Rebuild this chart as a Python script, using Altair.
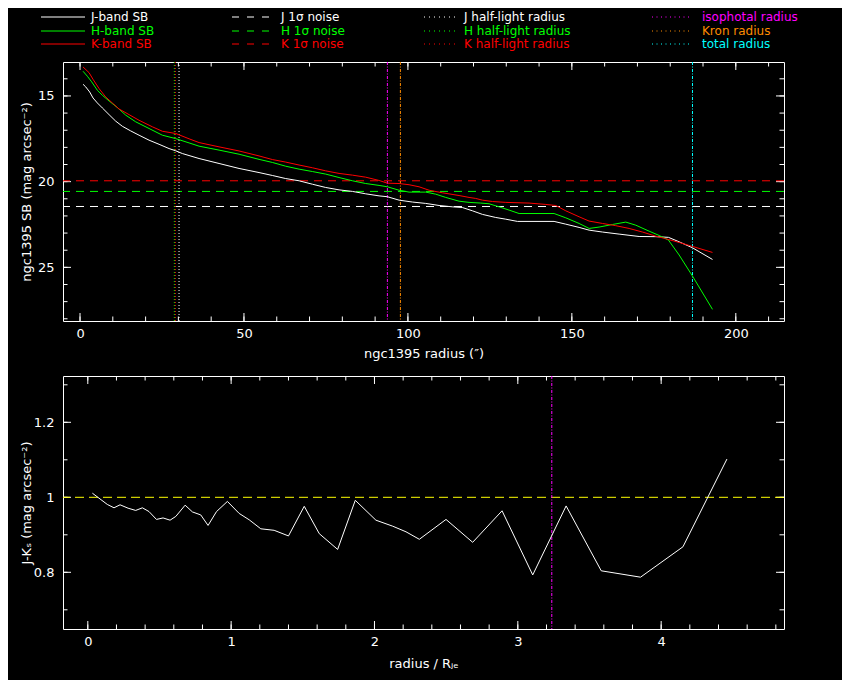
import altair as alt
import pandas as pd

# ---------------- data ----------------
j_radius = [0.92, 1.73, 2.95, 3.97, 5.29, 6.81, 8.85, 10.88, 12.91, 15.45,
            18.00, 21.05, 24.10, 27.15, 29.18, 31.21, 36.30, 42.40, 48.50, 54.60,
            58.66, 62.73, 66.80, 70.86, 74.93, 79.00, 83.07, 87.13, 91.20, 93.74,
            97.30, 101.37, 105.43, 109.50, 113.56, 116.61, 119.66, 122.72, 126.79, 129.84,
            133.40, 144.58, 148.14, 152.21, 155.26, 159.33, 164.41, 170.52, 175.60, 179.47,
            182.72, 186.79, 192.89]
j_sb = [14.32, 14.47, 14.77, 15.12, 15.41, 15.70, 16.09, 16.47, 16.77, 17.04,
        17.29, 17.58, 17.82, 18.07, 18.20, 18.36, 18.65, 18.94, 19.23, 19.47,
        19.64, 19.82, 19.95, 20.15, 20.34, 20.48, 20.57, 20.71, 20.83, 20.88,
        21.08, 21.19, 21.27, 21.39, 21.47, 21.51, 21.70, 21.91, 22.09, 22.19,
        22.32, 22.32, 22.48, 22.67, 22.83, 22.94, 23.06, 23.20, 23.21, 23.25,
        23.51, 23.86, 24.54]

h_radius = [0.92, 2.24, 3.56, 5.29, 6.81, 8.85, 11.39, 13.93, 16.98, 21.05,
            25.11, 29.18, 33.25, 36.30, 42.40, 48.50, 54.60, 58.66, 62.73, 66.80,
            70.86, 74.93, 79.00, 83.07, 87.13, 91.20, 93.74, 97.30, 100.35, 105.43,
            108.48, 111.53, 115.60, 118.65, 122.21, 124.75, 127.80, 130.86, 133.91, 144.58,
            148.14, 152.21, 155.26, 158.31, 162.38, 166.45, 169.50, 173.57, 176.62, 179.47,
            182.72, 186.79, 192.89]
h_sb = [13.56, 13.85, 14.18, 14.67, 14.96, 15.29, 15.68, 16.12, 16.51, 16.90,
        17.29, 17.49, 17.74, 17.93, 18.16, 18.40, 18.70, 18.88, 19.10, 19.27,
        19.41, 19.56, 19.76, 19.95, 20.11, 20.22, 20.30, 20.50, 20.61, 20.61,
        20.73, 20.92, 21.14, 21.21, 21.25, 21.29, 21.47, 21.66, 21.86, 21.86,
        22.11, 22.44, 22.73, 22.65, 22.50, 22.36, 22.54, 22.89, 23.14, 23.41,
        24.28, 25.51, 27.45]

k_radius = [0.92, 2.75, 3.97, 5.80, 7.83, 9.86, 11.90, 14.95, 18.00, 22.06,
            25.11, 29.18, 33.25, 36.30, 42.40, 48.50, 54.60, 58.66, 62.73, 66.80,
            70.86, 74.93, 79.00, 83.07, 87.13, 91.20, 93.74, 97.30, 100.35, 103.40,
            106.45, 110.52, 115.60, 118.65, 120.69, 122.72, 125.77, 129.84, 136.96, 142.04,
            145.09, 148.14, 152.21, 155.26, 159.33, 163.40, 167.47, 171.53, 175.60, 178.65,
            182.72, 186.79, 192.89]
k_sb = [13.31, 13.64, 14.03, 14.57, 15.06, 15.41, 15.76, 16.09, 16.42, 16.80,
        17.06, 17.19, 17.50, 17.72, 17.97, 18.21, 18.50, 18.71, 18.86, 19.03,
        19.19, 19.37, 19.52, 19.62, 19.74, 19.93, 20.09, 20.11, 20.18, 20.30,
        20.50, 20.65, 20.81, 20.92, 20.98, 21.08, 21.16, 21.21, 21.25, 21.33,
        21.39, 21.70, 22.05, 22.30, 22.44, 22.57, 22.73, 22.94, 23.18, 23.33,
        23.55, 23.78, 24.13]

noise_bands = ["J", "H", "K"]
noise_sb = [21.45, 20.57, 19.95]

halflight_bands = ["J", "H", "K"]
halflight_radius = [30.20, 28.77, 29.07]

aperture_names = ["isophotal radius", "Kron radius", "total radius"]
aperture_radius = [93.74, 97.71, 186.79]

jk_radius = [0.032, 0.136, 0.183, 0.225, 0.281, 0.334, 0.381, 0.427, 0.479, 0.525,
             0.574, 0.614, 0.679, 0.730, 0.788, 0.839, 0.898, 0.974, 1.056, 1.126,
             1.207, 1.300, 1.400, 1.510, 1.615, 1.743, 1.866, 2.010, 2.127, 2.220,
             2.313, 2.499, 2.685, 2.890, 3.104, 3.337, 3.582, 3.856, 4.152, 4.459]
jk_color = [1.011, 0.981, 0.972, 0.980, 0.971, 0.965, 0.972, 0.962, 0.941, 0.945,
            0.939, 0.949, 0.979, 0.961, 0.953, 0.925, 0.962, 0.989, 0.957, 0.940,
            0.916, 0.912, 0.897, 0.976, 0.903, 0.861, 0.992, 0.939, 0.923, 0.908,
            0.888, 0.941, 0.880, 0.964, 0.793, 0.977, 0.804, 0.787, 0.868, 1.102]
jk_reference = [1.0]
iso_radius_rje = [3.237]

top_x_labels = [0, 50, 100, 150, 200]
top_x_minor = list(range(0, 211, 10))
top_y_labels = [15, 20, 25]
top_y_minor = list(range(14, 29))
bot_x_labels = [0, 1, 2, 3, 4]
bot_x_minor = [round(0.2 * i, 1) for i in range(0, 25)]
bot_y_labels = [0.8, 1.0, 1.2]
bot_y_minor = [0.7, 0.8, 0.9, 1.0, 1.1, 1.2, 1.3]

legend_texts = [
    ["J-band SB", "H-band SB", "K-band SB"],
    ["J 1σ noise", "H 1σ noise", "K 1σ noise"],
    ["J half-light radius", "H half-light radius", "K half-light radius"],
    ["isophotal radius", "Kron radius", "total radius"],
]

# ---------------- styles ----------------
FONT = "DejaVu Sans"
W = 721
H_TOP = 259
H_BOT = 253
MAJOR = 8
MINOR = 4.5
BAND_COL = {"J": "#ffffff", "H": "#00ff00", "K": "#ff0000"}
APER_COL = {"isophotal radius": "#ff00ff", "Kron radius": "#ff8c00", "total radius": "#00ffff"}
NOISE_DASH = [8, 6]
HALF_DASH = [1, 2]
APER_DASH = [3, 1.5, 1, 1.5]

xs_top = alt.Scale(domain=[-5.19, 214.7], nice=False, zero=False)
ys_top = alt.Scale(domain=[13.02, 28.13], nice=False, zero=False, reverse=True)
xs_bot = alt.Scale(domain=[-0.173, 4.857], nice=False, zero=False)
ys_bot = alt.Scale(domain=[0.6488, 1.3235], nice=False, zero=False)


def label_axis_x(values, title, title_y):
    return alt.Axis(orient="bottom", values=values, ticks=False, labelPadding=6,
                    labelFlush=False, title=title, titleX=W / 2, titleY=title_y,
                    titleAlign="center", titleBaseline="middle")


def label_axis_y(values, title, h, fmt):
    return alt.Axis(orient="left", values=values, ticks=False, labelPadding=9,
                    format=fmt, title=title, titleX=-37, titleY=h / 2,
                    titleAlign="center", titleBaseline="middle", titleAngle=-90)


def line_layer(r, v, color, xs, ys, xaxis=None, yaxis=None):
    df = pd.DataFrame({"radius": r, "value": v})
    return alt.Chart(df).mark_line(color=color, strokeWidth=1).encode(
        x=alt.X("radius:Q", scale=xs, axis=xaxis),
        y=alt.Y("value:Q", scale=ys, axis=yaxis),
    )


def frame_ticks(xs, ys, xvals_major, xvals_minor, yvals_major, yvals_minor, w, h):
    """Inward-pointing ticks on all four sides of the frame, placed by the scales."""
    layers = []
    for vals, size in ((xvals_minor, MINOR), (xvals_major, MAJOR)):
        df = pd.DataFrame({"t": vals})
        for y0, y1 in ((h, h - size), (0, size)):
            layers.append(alt.Chart(df).mark_rule(color="white", strokeWidth=1).encode(
                x=alt.X("t:Q", scale=xs, axis=None), y=alt.value(y0), y2=alt.value(y1)))
    for vals, size in ((yvals_minor, MINOR), (yvals_major, MAJOR)):
        df = pd.DataFrame({"t": vals})
        for x0, x1 in ((0, size), (w, w - size)):
            layers.append(alt.Chart(df).mark_rule(color="white", strokeWidth=1).encode(
                y=alt.Y("t:Q", scale=ys, axis=None), x=alt.value(x0), x2=alt.value(x1)))
    return layers


one = pd.DataFrame({"k": [0]})

# ---------------- top panel ----------------
top_layers = frame_ticks(xs_top, ys_top, top_x_labels, top_x_minor,
                         top_y_labels, top_y_minor, W, H_TOP)
for b, s in zip(noise_bands, noise_sb):
    top_layers.append(
        alt.Chart(pd.DataFrame({"sb": [s]})).mark_rule(
            color=BAND_COL[b], strokeDash=NOISE_DASH, strokeWidth=1
        ).encode(y=alt.Y("sb:Q", scale=ys_top, axis=None))
    )
for b, r in zip(halflight_bands, halflight_radius):
    top_layers.append(
        alt.Chart(pd.DataFrame({"r": [r]})).mark_rule(
            color=BAND_COL[b], strokeDash=HALF_DASH, strokeWidth=1
        ).encode(x=alt.X("r:Q", scale=xs_top, axis=None))
    )
for n, r in zip(aperture_names, aperture_radius):
    top_layers.append(
        alt.Chart(pd.DataFrame({"r": [r]})).mark_rule(
            color=APER_COL[n], strokeDash=APER_DASH, strokeWidth=1
        ).encode(x=alt.X("r:Q", scale=xs_top, axis=None))
    )

top_layers.append(line_layer(
    j_radius, j_sb, BAND_COL["J"], xs_top, ys_top,
    label_axis_x(top_x_labels, "ngc1395 radius (″)", 32),
    label_axis_y(top_y_labels, "ngc1395 SB (mag arcsec⁻²)", H_TOP, "d")))
top_layers.append(line_layer(h_radius, h_sb, BAND_COL["H"], xs_top, ys_top))
top_layers.append(line_layer(k_radius, k_sb, BAND_COL["K"], xs_top, ys_top))

# legend above the top panel
row_y = [-45, -31, -18]
col_sample = [(-22, 22), (169, 213), (361, 393), (589, 629)]
col_text = [28, 218, 401, 639]
col_dash = [None, [7, 8], [1, 4], [1, 3.5]]
for ci, texts in enumerate(legend_texts):
    for ri, txt in enumerate(texts):
        if ci < 3:
            colr = BAND_COL[["J", "H", "K"][ri]]
        else:
            colr = APER_COL[aperture_names[ri]]
        x0, x1 = col_sample[ci]
        rule_kw = dict(color=colr, strokeWidth=1)
        if col_dash[ci] is not None:
            rule_kw["strokeDash"] = col_dash[ci]
        top_layers.append(
            alt.Chart(one).mark_rule(**rule_kw).encode(
                x=alt.value(x0), x2=alt.value(x1), y=alt.value(row_y[ri]))
        )
        top_layers.append(
            alt.Chart(one).mark_text(
                text=txt, align="left", baseline="middle", color=colr,
                font=FONT, fontSize=12
            ).encode(x=alt.value(col_text[ci]), y=alt.value(row_y[ri]))
        )

top = alt.layer(*top_layers).resolve_axis(
    x="independent", y="independent"
).properties(width=W, height=H_TOP)

# ---------------- bottom panel ----------------
bot_layers = frame_ticks(xs_bot, ys_bot, bot_x_labels, bot_x_minor,
                         bot_y_labels, bot_y_minor, W, H_BOT)
bot_layers += [
    alt.Chart(pd.DataFrame({"v": jk_reference})).mark_rule(
        color="#ffff00", strokeDash=[9, 5], strokeWidth=1
    ).encode(y=alt.Y("v:Q", scale=ys_bot, axis=None)),
    alt.Chart(pd.DataFrame({"r": iso_radius_rje})).mark_rule(
        color=APER_COL["isophotal radius"], strokeDash=APER_DASH, strokeWidth=1
    ).encode(x=alt.X("r:Q", scale=xs_bot, axis=None)),
    line_layer(jk_radius, jk_color, "#ffffff", xs_bot, ys_bot,
               label_axis_x(bot_x_labels, "radius / Rⱼₑ", 34),
               label_axis_y(bot_y_labels, "J-Kₛ (mag arcsec⁻²)", H_BOT, "~g")),
]

bottom = alt.layer(*bot_layers).resolve_axis(
    x="independent", y="independent"
).properties(width=W, height=H_BOT)

chart = alt.vconcat(top, bottom, spacing=14).properties(
    background="black",
    padding={"left": 11, "top": 2, "right": 43, "bottom": 9},
).configure_view(
    stroke="white", strokeWidth=1
).configure_axis(
    labelColor="white", titleColor="white", tickColor="white",
    labelFont=FONT, titleFont=FONT, labelFontSize=13, titleFontSize=13,
    titleFontWeight="normal", grid=False, domain=False,
)

chart.save("out.html", embed_options={"renderer": "svg", "actions": False})
